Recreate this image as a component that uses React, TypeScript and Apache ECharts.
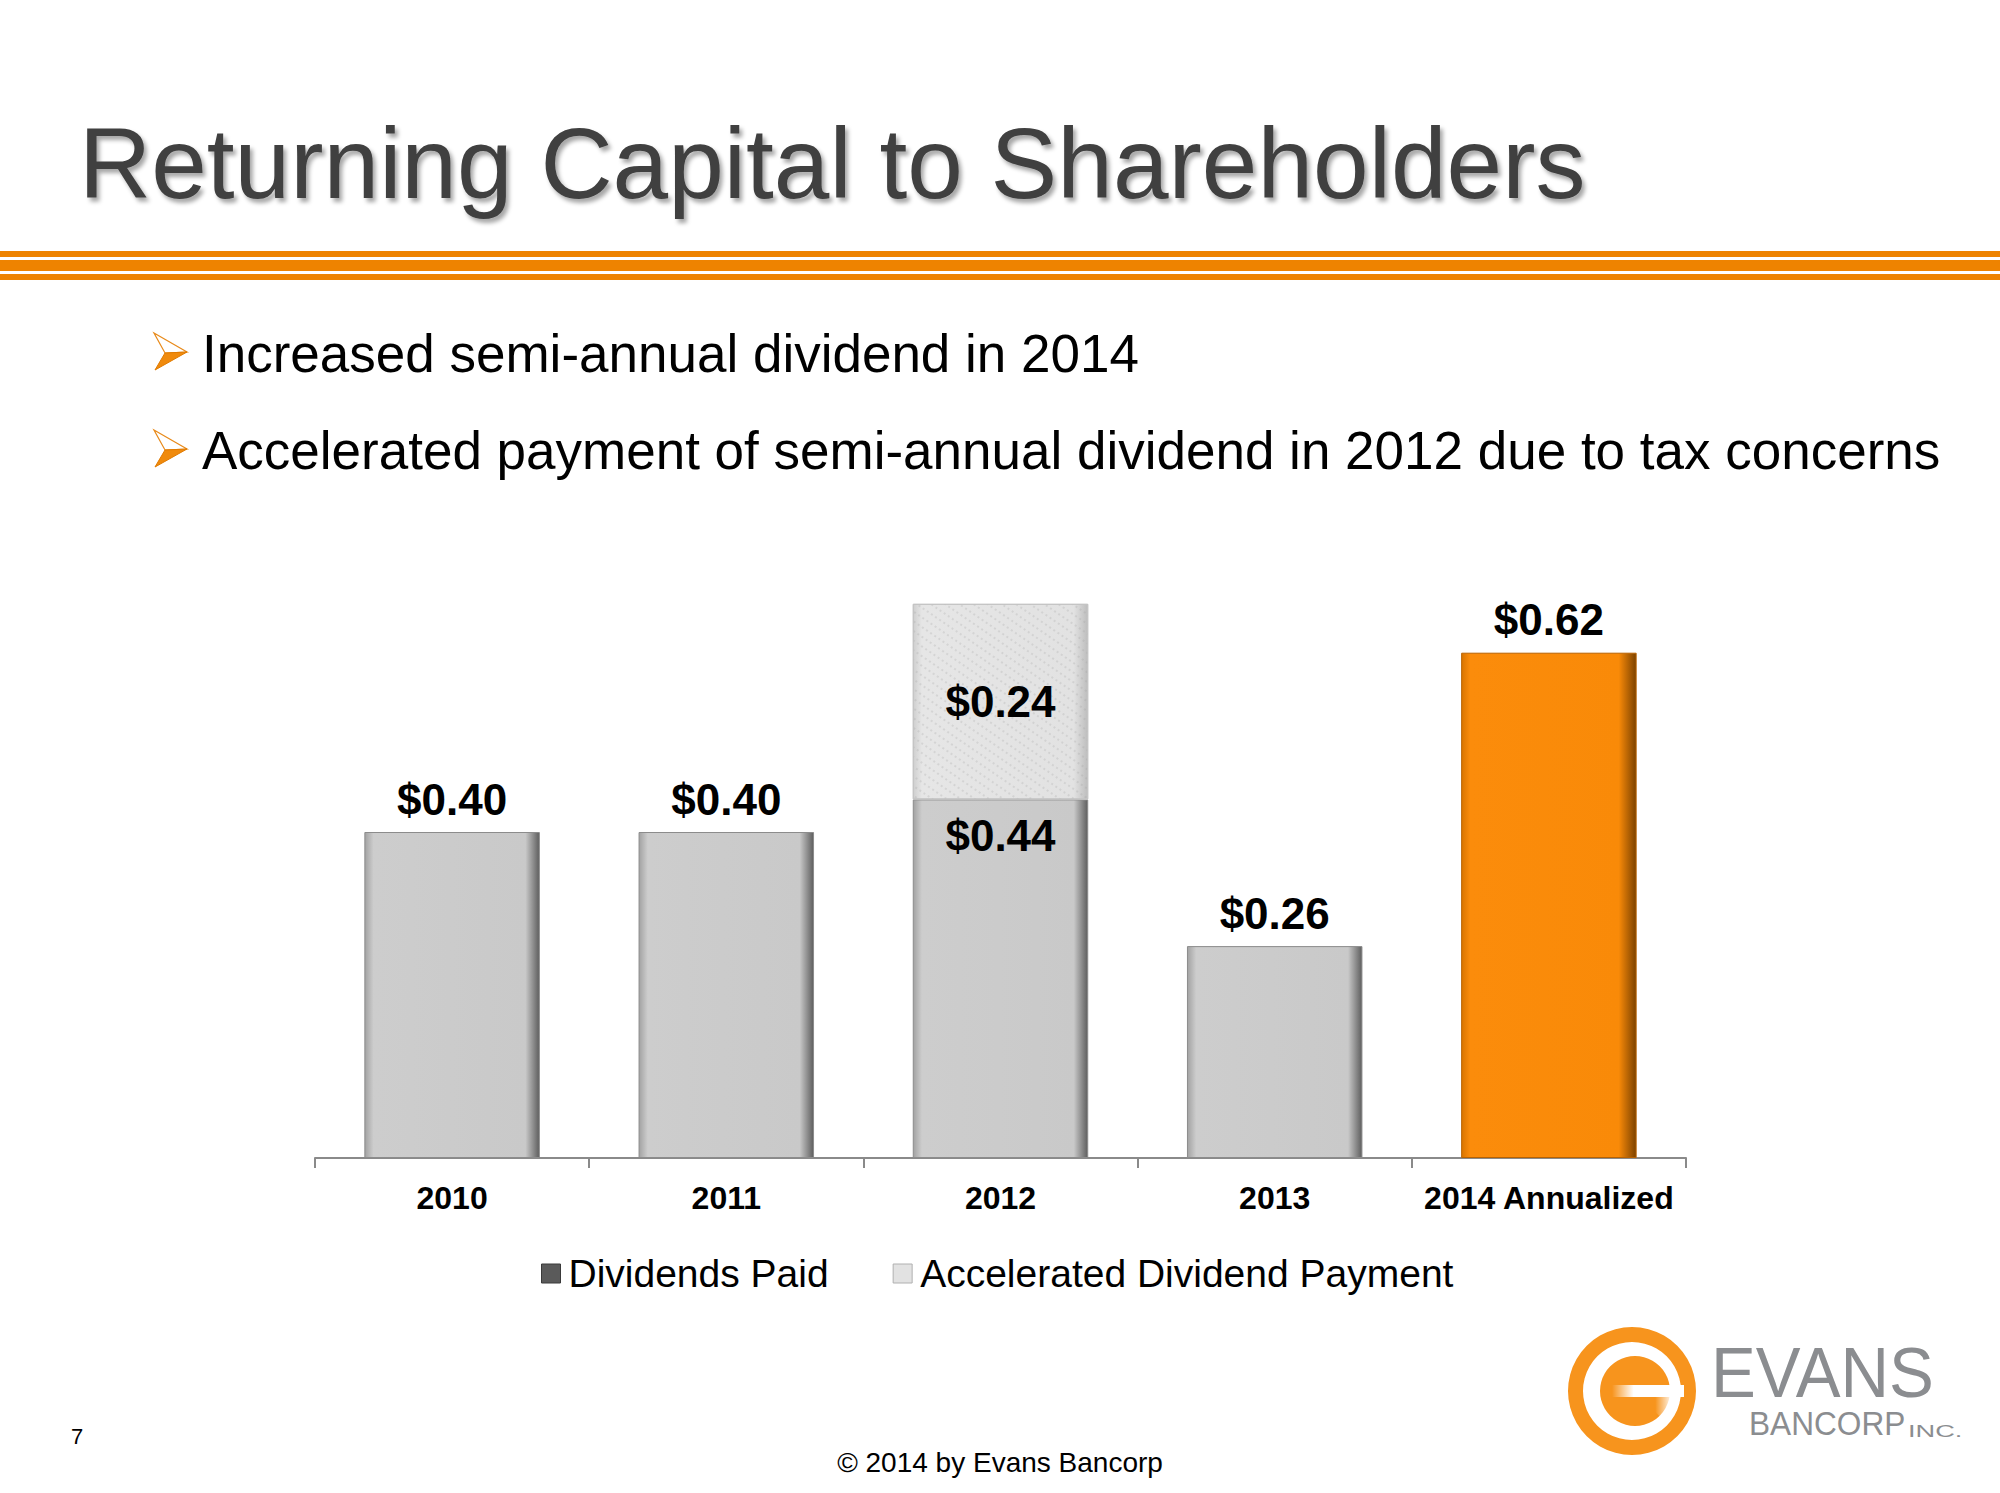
import React, { useEffect, useRef } from "react";
import * as echarts from "echarts";

const categories = ["2010", "2011", "2012", "2013", "2014 Annualized"];
const dividendsPaid = [0.4, 0.4, 0.44, 0.26, 0.62];
const acceleratedPayment: (number | string)[] = ["-", "-", 0.24, "-", "-"];
const seriesNames = ["Dividends Paid", "Accelerated Dividend Payment"];
const titleText = "Returning Capital to Shareholders";
const bullets = [
  "Increased semi-annual dividend in 2014",
  "Accelerated payment of semi-annual dividend in 2012 due to tax concerns",
];
const footerText = "\u00A9 2014 by Evans Bancorp";
const pageNumber = "7";
const highlightCategory = "2014 Annualized";
const insideLabelCategory = "2012";

const FONT = "'Liberation Sans', Arial, Helvetica, sans-serif";

const grayBar = new echarts.graphic.LinearGradient(0, 0, 1, 0, [
  { offset: 0, color: "#a2a2a2" },
  { offset: 0.05, color: "#cdcdcd" },
  { offset: 0.92, color: "#c9c9c9" },
  { offset: 1, color: "#5e5e5e" },
]);
const orangeBar = new echarts.graphic.LinearGradient(0, 0, 1, 0, [
  { offset: 0, color: "#d97500" },
  { offset: 0.05, color: "#fb8c0b" },
  { offset: 0.9, color: "#f98a08" },
  { offset: 1, color: "#7c4200" },
]);
const lightBar = new echarts.graphic.LinearGradient(0, 0, 1, 0, [
  { offset: 0, color: "#cfcfcf" },
  { offset: 0.05, color: "#e6e6e6" },
  { offset: 0.92, color: "#e2e2e2" },
  { offset: 1, color: "#bdbdbd" },
]);

const fmt = (v: number) => "$" + v.toFixed(2);

function arrow(x: number, y: number) {
  const tl = [x, y];
  const tip = [x + 33, y + 19];
  const bl = [x + 1, y + 37];
  const notch = [x + 11, y + 20];
  return [
    {
      type: "polygon",
      shape: { points: [tl, tip, notch] },
      style: { fill: "#ffffff", stroke: "#e88a1a", lineWidth: 1.2 },
    },
    {
      type: "polygon",
      shape: { points: [notch, tip, bl] },
      style: { fill: "#f08a0c", stroke: "#e07a00", lineWidth: 1 },
    },
  ];
}

export default function App() {
  const ref = useRef<HTMLDivElement>(null);

  useEffect(() => {
    if (!ref.current) return;
    const chart = echarts.init(ref.current, null, { renderer: "svg" });

    const paidData = dividendsPaid.map((v, i) => {
      const item: any = { value: v };
      if (categories[i] === highlightCategory) {
        item.itemStyle = { color: orangeBar, borderColor: "#b86200" };
      }
      if (categories[i] === insideLabelCategory) {
        item.label = { position: "insideTop", distance: 14 };
      }
      return item;
    });

    const option: any = {
      animation: false,
      backgroundColor: "#ffffff",
      grid: { left: 315, right: 314, top: 506, bottom: 335, containLabel: false },
      xAxis: {
        type: "category",
        data: categories,
        axisLine: { lineStyle: { color: "#8a8a8a", width: 2 } },
        axisTick: { show: true, interval: 0, length: 10, lineStyle: { color: "#8a8a8a", width: 2 } },
        axisLabel: {
          interval: 0,
          fontSize: 32,
          fontWeight: "bold",
          color: "#000",
          fontFamily: FONT,
          margin: 24,
        },
      },
      yAxis: { type: "value", min: 0, max: 0.8, show: false },
      legend: {
        left: 536,
        top: 1249,
        icon: "rect",
        itemWidth: 19,
        itemHeight: 19,
        itemGap: 64,
        textStyle: { fontSize: 39, color: "#000", fontFamily: FONT, padding: [0, 0, 0, 3] },
        data: [
          { name: seriesNames[0], itemStyle: { color: "#5a5a5a", borderColor: "#3a3a3a", borderWidth: 1 } },
          { name: seriesNames[1], itemStyle: { color: "#e2e2e2", borderColor: "#b0b0b0", borderWidth: 1, decal: "none" } },
        ],
      },
      series: [
        {
          name: seriesNames[0],
          type: "bar",
          stack: "total",
          barCategoryGap: "36%",
          data: paidData,
          itemStyle: { color: grayBar, borderColor: "#8c8c8c", borderWidth: 1 },
          label: {
            show: true,
            position: "top",
            distance: 11,
            formatter: (p: any) => fmt(p.value),
            fontSize: 44,
            fontWeight: "bold",
            color: "#000",
            fontFamily: FONT,
          },
        },
        {
          name: seriesNames[1],
          type: "bar",
          stack: "total",
          barCategoryGap: "36%",
          data: acceleratedPayment,
          itemStyle: {
            color: lightBar,
            borderColor: "#c4c4c4",
            borderWidth: 1,
            decal: {
              symbol: "circle",
              symbolSize: 0.8,
              color: "rgba(150,150,150,0.35)",
              dashArrayX: [[2, 3], [1, 4]],
              dashArrayY: [2, 2],
              rotation: 0.6,
            },
          },
          label: {
            show: true,
            position: "inside",
            formatter: (p: any) => fmt(p.value),
            fontSize: 44,
            fontWeight: "bold",
            color: "#000",
            fontFamily: FONT,
          },
        },
      ],
      graphic: [
        {
          type: "text",
          x: 79,
          y: 163,
          style: {
            text: titleText,
            fontSize: 100,
            fontFamily: FONT,
            fill: "#404040",
            textVerticalAlign: "middle",
            textAlign: "left",
            textShadowColor: "rgba(0,0,0,0.35)",
            textShadowBlur: 4,
            textShadowOffsetX: 3,
            textShadowOffsetY: 4,
          },
        },
        { type: "rect", shape: { x: 0, y: 251, width: 2000, height: 6 }, style: { fill: "#ee8300" } },
        { type: "rect", shape: { x: 0, y: 260, width: 2000, height: 11 }, style: { fill: "#ee8300" } },
        { type: "rect", shape: { x: 0, y: 274, width: 2000, height: 6 }, style: { fill: "#ee8300" } },
        ...arrow(154, 333),
        ...arrow(154, 430),
        {
          type: "text",
          x: 202,
          y: 353,
          style: { text: bullets[0], fontSize: 53, fontFamily: FONT, fill: "#000", textVerticalAlign: "middle" },
        },
        {
          type: "text",
          x: 202,
          y: 450,
          style: { text: bullets[1], fontSize: 53, fontFamily: FONT, fill: "#000", textVerticalAlign: "middle" },
        },
        {
          type: "text",
          x: 71,
          y: 1436,
          style: { text: pageNumber, fontSize: 22, fontFamily: FONT, fill: "#000", textVerticalAlign: "middle" },
        },
        {
          type: "text",
          x: 1000,
          y: 1462,
          style: {
            text: footerText,
            fontSize: 28,
            fontFamily: FONT,
            fill: "#000",
            textAlign: "center",
            textVerticalAlign: "middle",
          },
        },
        // logo
        { type: "ring", shape: { cx: 1632, cy: 1391, r: 64, r0: 49 }, style: { fill: "#f7941d" } },
        { type: "circle", shape: { cx: 1635, cy: 1391, r: 35 }, style: { fill: "#f7941d" } },
        {
          type: "sector",
          shape: { cx: 1635, cy: 1391, r0: 0, r: 37, startAngle: 0.1, endAngle: 0.8, clockwise: true },
          style: {
            fill: new echarts.graphic.LinearGradient(1, 0, 0, 0, [
              { offset: 0, color: "rgba(255,255,255,0.95)" },
              { offset: 0.45, color: "rgba(255,255,255,0)" },
            ]),
          },
        },
        {
          type: "rect",
          shape: { x: 1612, y: 1385, width: 72, height: 12 },
          style: {
            fill: new echarts.graphic.LinearGradient(0, 0, 1, 0, [
              { offset: 0, color: "rgba(255,255,255,0)" },
              { offset: 0.3, color: "rgba(255,255,255,1)" },
              { offset: 1, color: "rgba(255,255,255,1)" },
            ]),
          },
        },
        {
          type: "text",
          x: 1711,
          y: 1373,
          scaleX: 0.96,
          style: { text: "EVANS", fontSize: 70, fontFamily: FONT, fill: "#8b8d90", textVerticalAlign: "middle" },
        },
        {
          type: "text",
          x: 1749,
          y: 1423,
          scaleX: 0.93,
          style: { text: "BANCORP", fontSize: 34, fontFamily: FONT, fill: "#8b8d90", textVerticalAlign: "middle" },
        },
        {
          type: "text",
          x: 1908,
          y: 1431,
          scaleX: 1.6,
          style: { text: "INC.", fontSize: 17, fontFamily: FONT, fill: "#8b8d90", textVerticalAlign: "middle" },
        },
      ],
    };

    chart.setOption(option);
    return () => chart.dispose();
  }, []);

  return (
    <div
      ref={ref}
      style={{ position: "absolute", left: 0, top: 0, width: 2000, height: 1493, background: "#fff" }}
    />
  );
}
